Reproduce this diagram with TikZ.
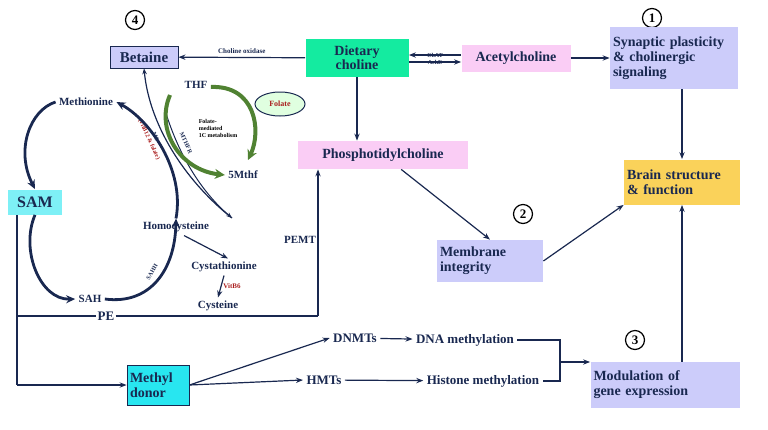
\documentclass[tikz,border=0pt]{standalone}
\usepackage{fontspec}
\setmainfont{Liberation Serif}
\usetikzlibrary{arrows.meta,shapes.geometric}
\definecolor{navy}{RGB}{25,40,80}
\definecolor{lav}{RGB}{204,204,250}
\definecolor{pinkb}{RGB}{250,205,245}
\definecolor{mint}{RGB}{20,235,160}
\definecolor{cyanb}{RGB}{40,230,240}
\definecolor{yel}{RGB}{250,210,90}
\definecolor{gr}{RGB}{80,130,50}
\definecolor{redt}{RGB}{170,30,30}
\begin{document}
\begin{tikzpicture}[x=1pt,y=-1pt,
 box/.style={draw=navy,line width=0.8pt,font=\fontsize{14}{15}\bfseries\color{navy},align=left,inner sep=3pt},
 txt/.style={font=\fontsize{13}{14}\bfseries\color{navy}},
 stxt/.style={font=\fontsize{11}{12}\bfseries\color{navy}},
 num/.style={circle,draw=black,line width=1.2pt,font=\fontsize{13}{14}\bfseries,inner sep=1pt,minimum size=19pt},
 ar/.style={-{Stealth[length=7pt]},navy,line width=1.2pt},
 cyc/.style={-{Stealth[length=9pt,width=8pt]},navy,line width=2.8pt},
 gar/.style={-{Stealth[length=10pt,width=10pt]},gr,line width=4pt}]
\useasboundingbox (0,0) rectangle (768,429);
\node[num] (n4) at (135,20) {4};
\node[num] (n1) at (652,18) {1};
\node[num] (n2) at (523,214) {2};
\node[num] (n3) at (635,340) {3};
\node[box,fill=lav,font=\fontsize{15}{16}\bfseries\color{navy},minimum width=68pt,minimum height=22pt,align=center] (bet) at (144,57) {Betaine};
\node[box,fill=mint,draw=none,minimum width=103pt,minimum height=38pt,align=center,font=\fontsize{14}{14}\bfseries\color{navy}] (dc) at (357,58) {Dietary\\choline};
\node[box,fill=pinkb,draw=none,minimum width=109pt,minimum height=27pt,align=center] (ach) at (516,58) {Acetylcholine};
\node[box,fill=lav,draw=none,minimum width=128pt,minimum height=62pt,text width=122pt] (syn) at (674,58) {Synaptic plasticity\\\& cholinergic\\signaling};
\node[box,fill=yel,draw=none,minimum width=116pt,minimum height=45pt,text width=110pt] (brain) at (682,182) {Brain structure\\\& function};
\node[box,fill=pinkb,draw=none,minimum width=170pt,minimum height=28pt,align=center] (pc) at (383,155) {Phosphotidylcholine};
\node[box,fill=lav,draw=none,minimum width=106pt,minimum height=42pt,text width=100pt] (mem) at (490,261) {Membrane\\integrity};
\node[box,fill=lav,draw=none,minimum width=149pt,minimum height=46pt,text width=143pt] (mod) at (665,385) {Modulation of\\gene expression};
\node[box,fill=cyanb,minimum width=62pt,minimum height=40pt,text width=56pt] (md) at (158,385) {Methyl\\donor};
\node[box,fill=cyanb!60,draw=none,font=\fontsize{16}{17}\bfseries\color{navy},minimum width=54pt,minimum height=25pt,align=center] (sam) at (35,202) {SAM};
\node[txt] (dnmt) at (355,338) {DNMTs};
\node[txt] (dnam) at (465,340) {DNA methylation};
\node[txt] (hmt) at (324,380) {HMTs};
\node[txt] (hism) at (483,381) {Histone methylation};
\node[txt,fill=white,inner sep=1pt] (pe) at (106,316) {PE};
\node[stxt] (pemt) at (300,240) {PEMT};
\node[stxt] (met) at (86,102) {Methionine};
\node[stxt] (thf) at (196,85) {THF};
\node[ellipse,draw=navy,line width=1pt,fill=green!12,font=\fontsize{8}{9}\bfseries\color{redt},minimum width=50pt,minimum height=24pt] (fol) at (280,104) {Folate};
\node[font=\fontsize{6}{7}\bfseries,align=left] (fm) at (218,128) {Folate-\\mediated\\1C metabolism};
\node[stxt] (mthf) at (243,175) {5Mthf};
\node[stxt] (hcy) at (176,227) {Homocysteine};
\node[stxt] (cyst) at (224,267) {Cystathionine};
\node[stxt] (cys) at (218,306) {Cysteine};
\node[font=\fontsize{7}{8}\bfseries\color{redt}] (b6) at (232,286) {VitB6};
\node[stxt] (sah) at (90,299) {SAH};
\node[font=\fontsize{6}{7}\bfseries\color{navy},rotate=60] (sahh) at (152,272) {SAHH};
\node[font=\fontsize{6}{7}\bfseries\color{navy},rotate=-65] (mthfr) at (186,143) {MTHFR};
\node[font=\fontsize{6}{7}\bfseries\color{navy},rotate=-65,align=center] (ms) at (152,138) {MS\\\textcolor{redt}{(VitB12 \& folate)}};
% main connectors
\draw[ar] (dc) -- node[above,font=\fontsize{7}{8}\bfseries\color{navy}]{Choline oxidase} (bet);
\draw[ar] ([yshift=-4pt]dc.east) -- node[above=1pt,font=\fontsize{6}{7}\bfseries\color{navy}]{ChAT} ([yshift=-4pt]ach.west);
\draw[ar] ([yshift=3pt]ach.west) -- node[below=1pt,font=\fontsize{6}{7}\bfseries\color{navy}]{AchE} ([yshift=3pt]dc.east);
\draw[ar] (ach) -- (syn);
\draw[ar] (syn.south -| brain) -- (brain);
\draw[ar] (dc.south) -- (dc.south |- pc.north);
\draw[ar] (pc) -- (mem.north);
\draw[ar] (mem.east) -- (brain.south west);
\draw[ar] (mod.north -| brain) -- (brain);
\coordinate (sl) at (17,316);
\coordinate (pcb) at (318,316);
\draw[navy,line width=1.2pt] (sam.south -| sl) -- (17,385);
\draw[ar] (17,385) -- (md);
\draw[navy,line width=1.2pt] (sl) -- (pe) -- (pcb);
\draw[ar] (pcb) -- (pcb |- pc.south);
\draw[ar] (md.east) -- (dnmt.west);
\draw[ar] (md.east) -- (hmt.west);
\draw[ar] (dnmt) -- (dnam);
\draw[ar] (hmt) -- (hism);
\coordinate (bt) at (560,340);
\coordinate (bb) at (560,381);
\draw[navy,line width=1.2pt] (dnam.east) -- (bt) -- (bb) -- (hism.east);
\draw[ar] (560,362) -- (mod.west |- 0,362);
% cycle
\draw[cyc] (met.west) .. controls (30,110) and (15,150) .. (sam.north);
\draw[cyc] (sam.south) .. controls (20,250) and (40,300) .. (sah.west);
\draw[cyc] (sah.east) .. controls (150,305) and (175,270) .. (hcy.north);
\draw[cyc] (hcy.north) .. controls (185,170) and (150,120) .. (met.east);
\draw[-{Stealth[length=6pt]},navy,line width=1.2pt] (232,218) .. controls (190,185) and (150,130) .. (bet.south);
\draw[-{Stealth[length=6pt]},navy,line width=1pt] (165,110) .. controls (180,160) and (205,195) .. (232,218);
\draw[ar] ([xshift=8pt]hcy.south) -- ([xshift=4pt]cyst.north);
\draw[ar] (cyst.south) -- (cys.north);
\draw[gar] ([yshift=-2pt]thf.east) .. controls (255,85) and (262,130) .. (248,160);
\draw[gar] (170,95) .. controls (155,130) and (180,170) .. (mthf.west);
\end{tikzpicture}
\end{document}
